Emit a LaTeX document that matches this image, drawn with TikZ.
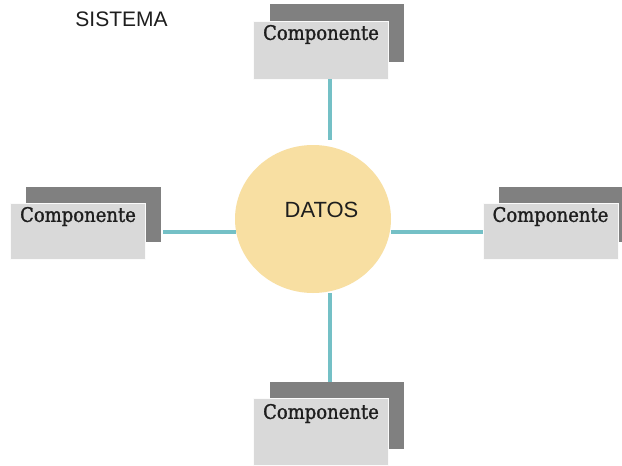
\documentclass[tikz,border=0pt]{standalone}
\usepackage{fontspec}
\setmainfont{Liberation Sans}
\newfontfamily\compfont[FakeStretch=0.9,FakeBold=1.3]{DejaVu Serif}
\usetikzlibrary{shapes.geometric}
\definecolor{darkgr}{HTML}{808080}
\definecolor{lightgr}{HTML}{D9D9D9}
\definecolor{circfill}{HTML}{F8DFA2}
\definecolor{teal}{HTML}{74C0C6}
\definecolor{ink}{HTML}{1E1E1E}
\tikzset{
  dbox/.style={rectangle, fill=darkgr, inner sep=0pt, outer sep=0pt, anchor=north west},
  lbox/.style={rectangle, fill=lightgr, draw=white!90!lightgr, line width=0.6pt, inner sep=0pt, outer sep=0pt, anchor=north west},
  comptext/.style={font=\compfont\fontsize{20}{22}\selectfont, text=ink, inner sep=0pt},
  conn/.style={draw=teal, line width=3.2pt},
  circ/.style={ellipse, fill=circfill, minimum width=156pt, minimum height=148pt, inner sep=0pt},
  sanslabel/.style={font=\fontsize{21}{24}\selectfont, text=ink, inner sep=0pt}
}
\begin{document}
\begin{tikzpicture}[x=1pt, y=-1pt]
\useasboundingbox (0,0) rectangle (622,466);
\clip (0,0) rectangle (622,466);
\fill[white] (0,0) rectangle (622,466);

% title
\node[sanslabel] (sistema) at (121.5,19) {SISTEMA};

% central circle
\node[circ] (datosc) at (313,219) {};
\node[sanslabel, font=\fontsize{22}{24}\selectfont] (datos) at (321.5,210) {DATOS};

% top component
\node[dbox, minimum width=134pt, minimum height=58pt] (topD) at (270,4) {};
\node[lbox, minimum width=135pt, minimum height=58pt] (topL) at (253,21) {};
\node[comptext] (topT) at (321,34.5) {Componente};

% left component
\node[dbox, minimum width=135pt, minimum height=55pt] (leftD) at (26,187) {};
\node[lbox, minimum width=135pt, minimum height=56pt] (leftL) at (10,203) {};
\node[comptext] (leftT) at (78,216.5) {Componente};

% right component
\node[dbox, minimum width=134pt, minimum height=55pt] (rightD) at (499,187) {};
\node[lbox, minimum width=135pt, minimum height=56pt] (rightL) at (483,203) {};
\node[comptext] (rightT) at (550.5,216.5) {Componente};

% bottom component
\node[dbox, minimum width=134pt, minimum height=67pt] (botD) at (270,382) {};
\node[lbox, minimum width=135pt, minimum height=67pt] (botL) at (253,398) {};
\node[comptext] (botT) at (321,413.5) {Componente};

% connector guides
\coordinate (vx) at (330,0);
\coordinate (hy) at (0,232);
\coordinate (topend) at (330,140);

% connectors
\draw[conn] (topL.south -| vx) -- (topend);
\draw[conn] (datosc.south -| vx) -- (botD.north -| vx);
\draw[conn] ([xshift=2pt]leftD.east |- hy) -- ([xshift=1pt]datosc.west |- hy);
\draw[conn] (datosc.east |- hy) -- (rightL.west |- hy);
\end{tikzpicture}
\end{document}
